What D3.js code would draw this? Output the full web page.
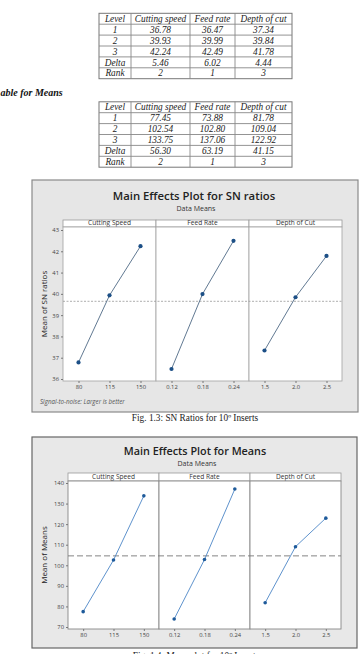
<!DOCTYPE html>
<html><head><meta charset="utf-8">
<script src="https://cdn.jsdelivr.net/npm/d3@7"></script>
<style>html,body{margin:0;padding:0;background:#fff;overflow:hidden}</style>
</head><body>
<script>
// ---- data ----
const tableHeader = ["Level","Cutting speed","Feed rate","Depth of cut"];
const tableLevels = ["1","2","3","Delta","Rank"];
const snCutting = ["36.78","39.93","42.24","5.46","2"];
const snFeed = ["36.47","39.99","42.49","6.02","1"];
const snDepth = ["37.34","39.84","41.78","4.44","3"];
const meanCutting = ["77.45","102.54","133.75","56.30","2"];
const meanFeed = ["73.88","102.80","137.06","63.19","1"];
const meanDepth = ["81.78","109.04","122.92","41.15","3"];

const factors = ["Cutting Speed","Feed Rate","Depth of Cut"];
const levelLabels = [["80","115","150"],["0.12","0.18","0.24"],["1.5","2.0","2.5"]];
const snValues = [[36.78,39.93,42.24],[36.47,39.99,42.49],[37.34,39.84,41.78]];
const meanValues = [[77.45,102.54,133.75],[73.88,102.80,137.06],[81.78,109.04,122.92]];
const snTicks = [36,37,38,39,40,41,42,43];
const meanTicks = [70,80,90,100,110,120,130,140];

const W = 364, H = 654;
const svg = d3.select("body").append("svg").attr("width", W).attr("height", H);
const serif = "'Liberation Serif','Times New Roman',serif";
const sans = "'Open Sans','Noto Sans',sans-serif";

// ---- tables ----
function drawTable(top, cols) {
  const colEdges = [99,131,190,235,292];
  const rowH = 10.9;
  const g = svg.append("g");
  const rows = [tableHeader].concat(tableLevels.map((l,i)=>[l, cols[0][i], cols[1][i], cols[2][i]]));
  const y = d3.scaleLinear().domain([0, rows.length]).range([top, top + rowH*rows.length]);
  g.append("rect").attr("x",colEdges[0]).attr("y",y(0)).attr("width",colEdges[4]-colEdges[0])
   .attr("height",y(rows.length)-y(0)).attr("fill","none").attr("stroke","#777").attr("stroke-width",1);
  for (let r=1;r<rows.length;r++) g.append("line").attr("x1",colEdges[0]).attr("x2",colEdges[4])
     .attr("y1",y(r)).attr("y2",y(r)).attr("stroke","#888").attr("stroke-width",0.9);
  for (let c=1;c<4;c++) g.append("line").attr("x1",colEdges[c]).attr("x2",colEdges[c])
     .attr("y1",y(0)).attr("y2",y(rows.length)).attr("stroke","#888").attr("stroke-width",0.9);
  rows.forEach((row,r)=>row.forEach((t,c)=>{
    g.append("text").attr("x",(colEdges[c]+colEdges[c+1])/2).attr("y",y(r)+rowH/2+3.2)
     .attr("text-anchor","middle").attr("font-family",serif).attr("font-style","italic")
     .attr("font-size",9.3).attr("fill","#222").text(t);
  }));
}
drawTable(13.3, [snCutting, snFeed, snDepth]);
svg.append("text").attr("x",0.5).attr("y",95.5).attr("text-anchor","start").attr("font-family",serif)
  .attr("font-weight","bold").attr("font-style","italic").attr("font-size",10).attr("fill","#111")
  .text("able for Means");
drawTable(101.8, [meanCutting, meanFeed, meanDepth]);

// ---- main effects charts ----
function drawChart(opt) {
  const g = svg.append("g");
  g.append("rect").attr("x",opt.box[0]).attr("y",opt.box[1]).attr("width",opt.box[2]-opt.box[0])
   .attr("height",opt.box[3]-opt.box[1]).attr("fill",opt.bg).attr("stroke",opt.boxStroke).attr("stroke-width",1.2);
  g.append("text").attr("x",opt.titleX).attr("y",opt.titleY).attr("text-anchor","middle")
   .attr("font-family",sans).attr("font-weight",600).attr("font-size",opt.titleSize).attr("fill","#222").text(opt.title);
  g.append("text").attr("x",opt.titleX+2).attr("y",opt.subY).attr("text-anchor","middle")
   .attr("font-family",sans).attr("font-size",7).attr("fill","#333").text("Data Means");
  const y = d3.scaleLinear().domain(opt.ydom).range(opt.yrange);
  const pw = (opt.right - opt.left)/3;
  const [stripTop, stripBot, panBot] = opt.rows;
  factors.forEach((f,i)=>{
    const x0 = opt.left + i*pw;
    g.append("rect").attr("x",x0).attr("y",stripTop).attr("width",pw).attr("height",stripBot-stripTop)
     .attr("fill","#fff").attr("stroke","#999").attr("stroke-width",0.8);
    g.append("text").attr("x",x0+pw/2).attr("y",stripBot-1.6).attr("text-anchor","middle")
     .attr("font-family",sans).attr("font-size",6.6).attr("fill","#333").text(f);
    g.append("rect").attr("x",x0).attr("y",stripBot).attr("width",pw).attr("height",panBot-stripBot)
     .attr("fill","#fff").attr("stroke",opt.sepColor).attr("stroke-width",0.9);
  });
  const grand = d3.mean(opt.values[0]);
  g.append("line").attr("x1",opt.left).attr("x2",opt.right).attr("y1",y(grand)).attr("y2",y(grand))
   .attr("stroke",opt.refColor).attr("stroke-width",opt.refW).attr("stroke-dasharray",opt.refDash);
  const ya = d3.axisLeft(y).tickValues(opt.yticks).tickFormat(d3.format("d")).tickSize(2).tickPadding(2);
  const yg = g.append("g").attr("transform",`translate(${opt.left},0)`).call(ya);
  yg.select(".domain").remove();
  yg.selectAll("line").attr("stroke","#777");
  yg.selectAll("text").attr("font-family",sans).attr("font-size",5.8).attr("fill","#444");
  g.append("text").attr("transform",`translate(${opt.ytitleX},${(stripBot+panBot)/2}) rotate(-90)`)
   .attr("text-anchor","middle").attr("font-family",sans).attr("font-size",8).attr("fill","#222").text(opt.ytitle);
  factors.forEach((f,i)=>{
    const x0 = opt.left + i*pw;
    const x = d3.scalePoint().domain(levelLabels[i]).range([x0, x0+pw]).padding(0.5);
    const xa = d3.axisBottom(x).tickSize(2).tickPadding(2);
    const xg = g.append("g").attr("transform",`translate(0,${panBot})`).call(xa);
    xg.select(".domain").remove();
    xg.selectAll("line").attr("stroke","#777");
    xg.selectAll("text").attr("font-family",sans).attr("font-size",5.8).attr("fill","#444");
    const pts = levelLabels[i].map((l,k)=>[x(l), y(opt.values[i][k])]);
    g.append("path").attr("d",d3.line()(pts)).attr("fill","none").attr("stroke",opt.lineColor).attr("stroke-width",opt.lineW);
    g.selectAll(null).data(pts).enter().append("circle").attr("cx",d=>d[0]).attr("cy",d=>d[1])
     .attr("r",opt.r).attr("fill",opt.ptColor);
  });
  if (opt.note) g.append("text").attr("x",opt.box[0]+8).attr("y",opt.noteY).attr("font-family",sans)
     .attr("font-style","italic").attr("font-size",6.2).attr("fill","#555").text(opt.note);
  g.append("text").attr("x",opt.capX).attr("y",opt.capY).attr("text-anchor","middle").attr("font-family",serif)
   .attr("font-size",9.3).attr("fill","#222").text(opt.caption);
}

drawChart({
  box:[32,180,358,412], bg:"#e6e6e6", boxStroke:"#8a8a8a",
  title:"Main Effects Plot for SN ratios", titleX:194, titleY:199.5, titleSize:11.3, subY:210.5,
  left:63, right:342, rows:[220,227,381],
  ydom:[36,43], yrange:[379,230], yticks:snTicks, values:snValues,
  ytitle:"Mean of SN ratios", ytitleX:47,
  refColor:"#999", refW:0.8, refDash:"2,1.5", sepColor:"#aaa",
  lineColor:"#4f6a86", lineW:0.9, ptColor:"#1c4f86", r:2.1,
  note:"Signal-to-noise: Larger is better", noteY:404,
  caption:"Fig. 1.3: SN Ratios for 10º Inserts", capX:195, capY:421
});
drawChart({
  box:[32,437,357,648], bg:"#e8e8e8", boxStroke:"#666",
  title:"Main Effects Plot for Means", titleX:195, titleY:455, titleSize:10.8, subY:466,
  left:68, right:341, rows:[473,481,629],
  ydom:[70,140], yrange:[627,483], yticks:meanTicks, values:meanValues,
  ytitle:"Mean of Means", ytitleX:47,
  refColor:"#777", refW:0.9, refDash:"6,3", sepColor:"#888",
  lineColor:"#4c86c6", lineW:0.9, ptColor:"#1e5a9a", r:1.8,
  note:null,
  caption:"Fig. 1.4: Mean plot for 10º Inserts", capX:196, capY:659
});
</script>
</body></html>
